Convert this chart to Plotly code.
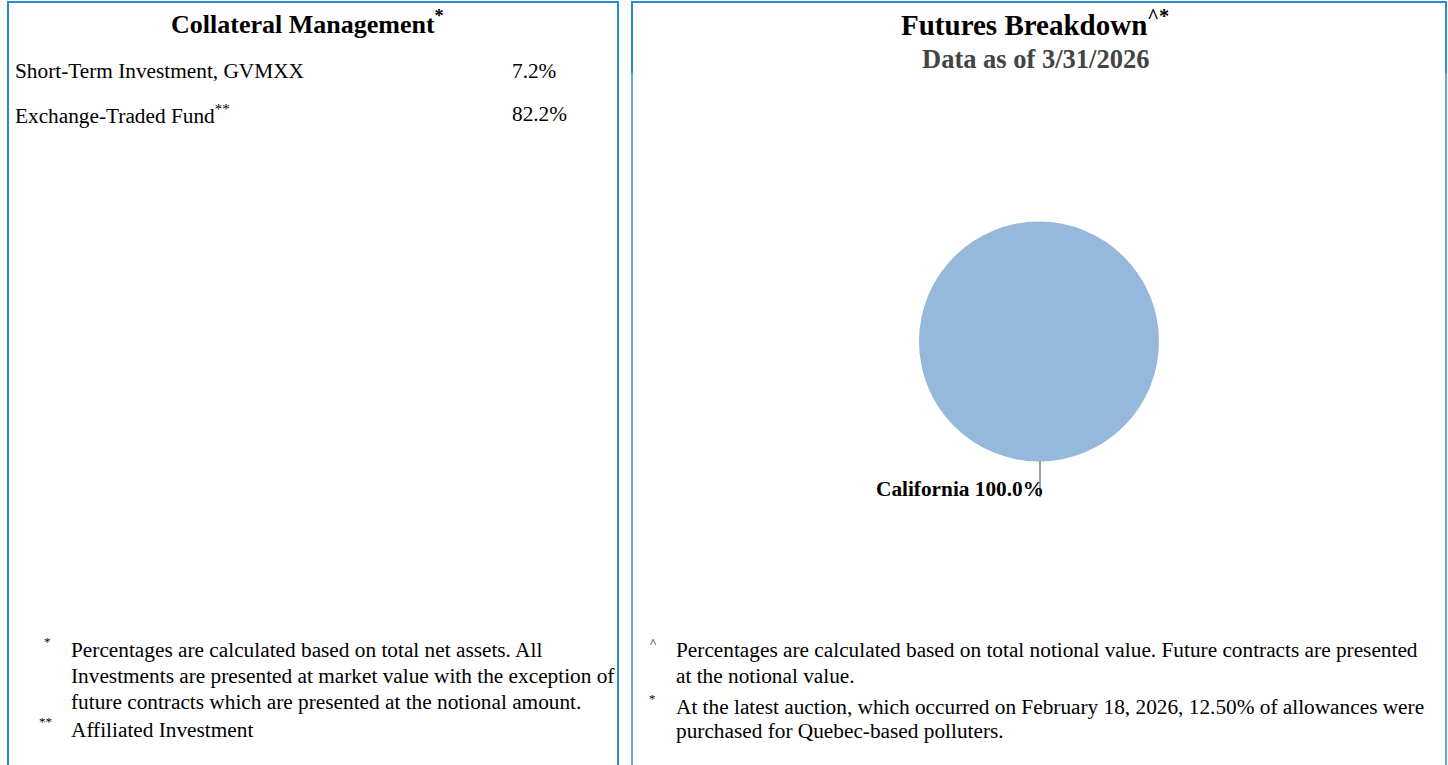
import plotly.graph_objects as go

W, H = 1448, 765

# ---- data ----
left_title = "Collateral Management"
left_title_mark = "*"
holdings = ["Short-Term Investment, GVMXX", "Exchange-Traded Fund"]
holding_marks = ["", "**"]
holding_pcts = [7.2, 82.2]

left_notes_marks = ["*", "**"]
left_notes = [
    ["Percentages are calculated based on total net assets. All",
     "Investments are presented at market value with the exception of",
     "future contracts which are presented at the notional amount."],
    ["Affiliated Investment"],
]

right_title = "Futures Breakdown"
right_title_mark = "^*"
right_subtitle = "Data as of 3/31/2026"
regions = ["California"]
region_pcts = [100.0]

right_notes_marks = ["^", "*"]
right_notes = [
    ["Percentages are calculated based on total notional value. Future contracts are presented",
     "at the notional value."],
    ["At the latest auction, which occurred on February 18, 2026, 12.50% of allowances were",
     "purchased for Quebec-based polluters."],
]

# ---- styles ----
FONT = "Liberation Serif, Times New Roman, serif"
BORDER = "#2A8BCB"
PIE_COLOR = "#97B8DD"
BODY = 21.3


def px(x):
    return x / W


def py(y):
    return 1 - y / H


fig = go.Figure()

fig.add_trace(go.Pie(
    labels=regions,
    values=region_pcts,
    marker=dict(colors=[PIE_COLOR], line=dict(width=0)),
    textinfo="none",
    sort=False,
    showlegend=False,
    hoverinfo="label+percent",
    domain=dict(x=[px(919), px(1159)], y=[py(462), py(221)]),
))

annotations = []

def ann(x, y, text, size, xanchor="left", yanchor="middle", color="#000", bold=False):
    if bold:
        text = "<b>" + text + "</b>"
    annotations.append(dict(
        x=px(x), y=py(y), xref="paper", yref="paper", text=text, showarrow=False,
        xanchor=xanchor, yanchor=yanchor, align="left",
        font=dict(family=FONT, size=size, color=color),
    ))

# left title
ann(307, 22, left_title + "<sup>" + left_title_mark + "</sup>", 26, xanchor="center", bold=True)

# holdings rows
row_y = [71, 114]
for name, mark, pct, y in zip(holdings, holding_marks, holding_pcts, row_y):
    label = name + ("<sup>" + mark + "</sup>" if mark else "")
    ann(13, y, label, BODY)
    ann(510, y, f"{pct:.1f}%", BODY)

# left footnotes
left_mark_pos = [(47, 641), (45, 721)]
left_line_y = [[650, 676, 702], [730]]
for mark, (mx, my), lines, ys in zip(left_notes_marks, left_mark_pos, left_notes, left_line_y):
    ann(mx, my, mark, 13, xanchor="center")
    for t, y in zip(lines, ys):
        ann(69, y, t, BODY)

# right title
ann(1035, 23, right_title + "<sup>" + right_title_mark + "</sup>", 29, xanchor="center", bold=True)
ann(1035, 59, right_subtitle, 26.5, xanchor="center", color="#444444", bold=True)

# pie label
ann(1046, 489, f"{regions[0]} {region_pcts[0]:.1f}%", BODY, xanchor="right", bold=True)

# right footnotes
right_mark_pos = [(653, 642), (652, 698)]
right_line_y = [[650, 676], [707, 731]]
for mark, (mx, my), lines, ys in zip(right_notes_marks, right_mark_pos, right_notes, right_line_y):
    ann(mx, my, mark, 13, xanchor="center")
    for t, y in zip(lines, ys):
        ann(674, y, t, BODY)

shapes = []

def line(x0, y0, x1, y1, color=BORDER, width=2):
    shapes.append(dict(type="line", xref="paper", yref="paper",
                       x0=px(x0), y0=py(y0), x1=px(x1), y1=py(y1),
                       line=dict(color=color, width=width)))

# left panel border
line(8, 2, 618, 2)
line(8, 1, 8, 765)
line(618, 1, 618, 765)
# right panel border
line(632, 2, 1446, 2)
line(632, 1, 632, 73)
line(632, 73, 632, 765, width=1.5)
line(1446, 1, 1446, 73)
line(1446, 73, 1446, 765, width=1.5)
# pie leader line
line(1040, 461, 1040, 497, color="#808080", width=1.5)

fig.update_layout(
    width=W, height=H,
    margin=dict(l=0, r=0, t=0, b=0),
    paper_bgcolor="white", plot_bgcolor="white",
    annotations=annotations, shapes=shapes,
    showlegend=False,
)

fig.write_html(
    "out.html",
    config={"displayModeBar": False},
    post_script="document.body.style.margin='0';document.body.style.overflow='hidden';",
)
